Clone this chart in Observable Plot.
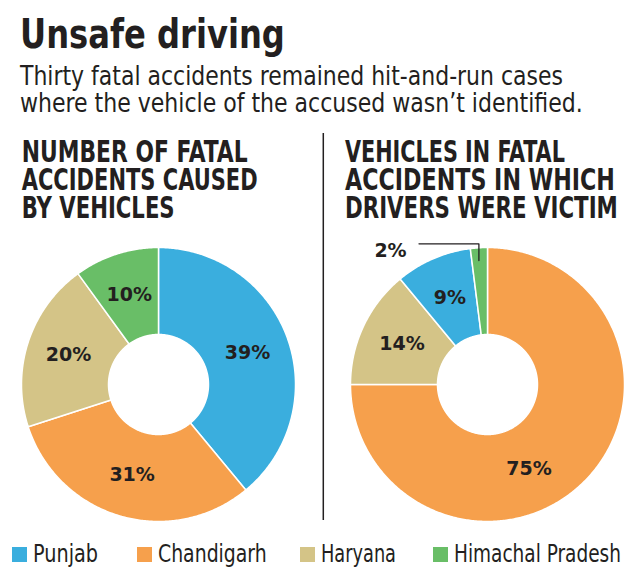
<!DOCTYPE html>
<html><head><meta charset="utf-8">
<script src="https://cdn.jsdelivr.net/npm/d3@7"></script>
<script src="https://cdn.jsdelivr.net/npm/@observablehq/plot@0.6"></script>
<style>
html,body{margin:0;padding:0;background:#fff;}
#page{position:relative;width:640px;height:577px;overflow:hidden;color:#231f20;}
.donut{position:absolute;top:235px;}
#legend{position:absolute;left:11.7px;top:540px;width:628px;}
#legend .lg-swatches{font-family:"Liberation Sans Narrow","DejaVu Sans Condensed",sans-serif;font-size:24.5px;line-height:28px;color:#231f20;margin:0;min-height:0;flex-wrap:nowrap;}
#legend .lg-swatch{margin-right:0;line-height:28px;}
#legend .lg-swatch > svg{margin-right:6.5px;}
#legend .lg-swatch:nth-of-type(1){width:125px;}
#legend .lg-swatch:nth-of-type(2){width:163.3px;}
#legend .lg-swatch:nth-of-type(3){width:133px;}
</style></head>
<body><div id="page"></div>
<script>
// ---------- data ----------
const states = ["Punjab", "Chandigarh", "Haryana", "Himachal Pradesh"];
const stateColors = ["#3aaede", "#f6a04c", "#d4c487", "#69be67"];

const causedStates = ["Punjab", "Chandigarh", "Haryana", "Himachal Pradesh"];
const causedPct = [39, 31, 20, 10];

const victimStates = ["Chandigarh", "Haryana", "Punjab", "Himachal Pradesh"];
const victimPct = [75, 14, 9, 2];

const titleText = "Unsafe driving";
const subtitleLines = ["Thirty fatal accidents remained hit-and-run cases",
                       "where the vehicle of the accused wasn\u2019t identified."];
const leftHeading = ["NUMBER OF FATAL", "ACCIDENTS CAUSED", "BY VEHICLES"];
const rightHeading = ["VEHICLES IN FATAL", "ACCIDENTS IN WHICH", "DRIVERS WERE VICTIM"];

// ---------- helpers ----------
const INK = "#231f20";
const NARROW = '"Liberation Sans Narrow","DejaVu Sans Condensed",sans-serif';
const R0 = 50 / 137;   // inner radius relative to outer
const LR = 0.69;       // label radius

function makeSlices(names, pcts) {
  const arcs = d3.pie().sort(null).value(d => d.pct)(names.map((state, i) => ({state, pct: pcts[i]})));
  return arcs.map(a => ({state: a.data.state, pct: a.data.pct, a0: a.startAngle, a1: a.endAngle,
                         mid: (a.startAngle + a.endAngle) / 2}));
}
function ring(a0, a1, r0, r1) {
  const n = Math.max(2, Math.ceil((a1 - a0) / 0.01));
  const pts = [];
  for (let i = 0; i <= n; i++) { const a = a0 + (a1 - a0) * i / n; pts.push([Math.sin(a) * r1, -Math.cos(a) * r1]); }
  for (let i = n; i >= 0; i--) { const a = a0 + (a1 - a0) * i / n; pts.push([Math.sin(a) * r0, -Math.cos(a) * r0]); }
  pts.push(pts[0]);
  return {type: "Polygon", coordinates: [pts]};
}
const labelAngle = d => d.pct > 50 ? d.mid + 0.33 : d.mid;

function donut(slices, extra = []) {
  return Plot.plot({
    width: 298, height: 298, margin: 0,
    style: {fontFamily: "DejaVu Sans", background: "transparent", overflow: "visible"},
    projection: {type: "identity", inset: 12,
                 domain: {type: "MultiPoint", coordinates: [[-1, 0], [1, 0], [0, -1], [0, 1]]}},
    color: {domain: states, range: stateColors},
    marks: [
      Plot.geo(slices, {geometry: d => ring(d.a0, d.a1, R0, 1), fill: "state", stroke: "white", strokeWidth: 1.5}),
      Plot.text(slices.filter(d => d.pct >= 5), {
        x: d => Math.sin(labelAngle(d)) * LR, y: d => -Math.cos(labelAngle(d)) * LR,
        text: d => d.pct + "%", fontSize: 19, fontWeight: "bold", fill: INK
      }),
      ...extra
    ]
  });
}

// ---------- build ----------
const page = d3.select("#page");

const causedSlices = makeSlices(causedStates, causedPct);
const victimSlices = makeSlices(victimStates, victimPct);
const small = victimSlices.filter(d => d.pct < 5);

const leftPlot = donut(causedSlices);
leftPlot.classList.add("donut");
leftPlot.style.left = "9.3px";
page.node().appendChild(leftPlot);

const rightPlot = donut(victimSlices, [
  Plot.line(small.flatMap(d => [[-0.5, -1.027], [Math.sin(d.mid), -1.027], [Math.sin(d.mid), -0.905]]),
            {stroke: INK, strokeWidth: 1.3}),
  Plot.text(small, {x: () => -0.59, y: () => -0.975, text: d => d.pct + "%", textAnchor: "end",
                    fontSize: 19, fontWeight: "bold", fill: INK})
]);
rightPlot.classList.add("donut");
rightPlot.style.left = "337.5px";
page.node().appendChild(rightPlot);

// legend (Plot swatches), label widths fitted to the reference
const legendDiv = page.append("div").attr("id", "legend").node();
legendDiv.appendChild(Plot.legend({color: {domain: states, range: stateColors}, legend: "swatches",
                                   swatchSize: 15, className: "lg"}));
const legendLabelWidths = [65, 108.7, 75, 167];
legendDiv.querySelectorAll(".lg-swatch").forEach((item, i) => {
  const nodes = [...item.childNodes].filter(n => !(n.nodeType === 1 && n.tagName.toLowerCase() === "svg") && n.textContent.trim());
  const label = nodes[nodes.length - 1];
  const outer = document.createElement("span");
  outer.style.cssText = `display:inline-block;width:${legendLabelWidths[i]}px;white-space:nowrap;`;
  const inner = document.createElement("span");
  inner.style.cssText = "display:inline-block;transform-origin:0 50%;white-space:nowrap;";
  inner.textContent = label.textContent;
  outer.appendChild(inner);
  item.replaceChild(outer, label);
  const nat = inner.getBoundingClientRect().width;
  inner.style.transform = `scaleX(${legendLabelWidths[i] / nat})`;
});

// titles and headings (SVG overlay)
const svg = page.append("svg").attr("width", 640).attr("height", 577)
  .style("position", "absolute").style("left", 0).style("top", 0).style("pointer-events", "none");

const texts = [
  {s: titleText, x: 20, y: 48.3, size: 41, weight: 700, w: 265},
  {s: subtitleLines[0], x: 20, y: 85, size: 27, weight: 400, w: 543},
  {s: subtitleLines[1], x: 20, y: 112, size: 27, weight: 400, w: 563},
  ...leftHeading.map((s, i) => ({s, x: 21.7, y: 161.7 + i * 28.3, size: 30, weight: 700, w: [226, 236, 153][i]})),
  ...rightHeading.map((s, i) => ({s, x: 345, y: 161.7 + i * 28.3, size: 30, weight: 700, w: [220, 270, 273][i]}))
];
svg.selectAll("text.t").data(texts).join("text")
  .attr("class", "t")
  .attr("x", 0).attr("y", 0)
  .attr("font-family", NARROW).attr("font-size", d => d.size).attr("font-weight", d => d.weight)
  .attr("fill", INK)
  .text(d => d.s)
  .each(function(d) {
    const nat = this.getComputedTextLength();
    d3.select(this).attr("transform", `translate(${d.x},${d.y}) scale(${d.w / nat},1)`);
  });

svg.append("line").attr("x1", 323.3).attr("x2", 323.3).attr("y1", 133).attr("y2", 520)
  .attr("stroke", INK).attr("stroke-width", 1.5);
</script>
</body></html>
